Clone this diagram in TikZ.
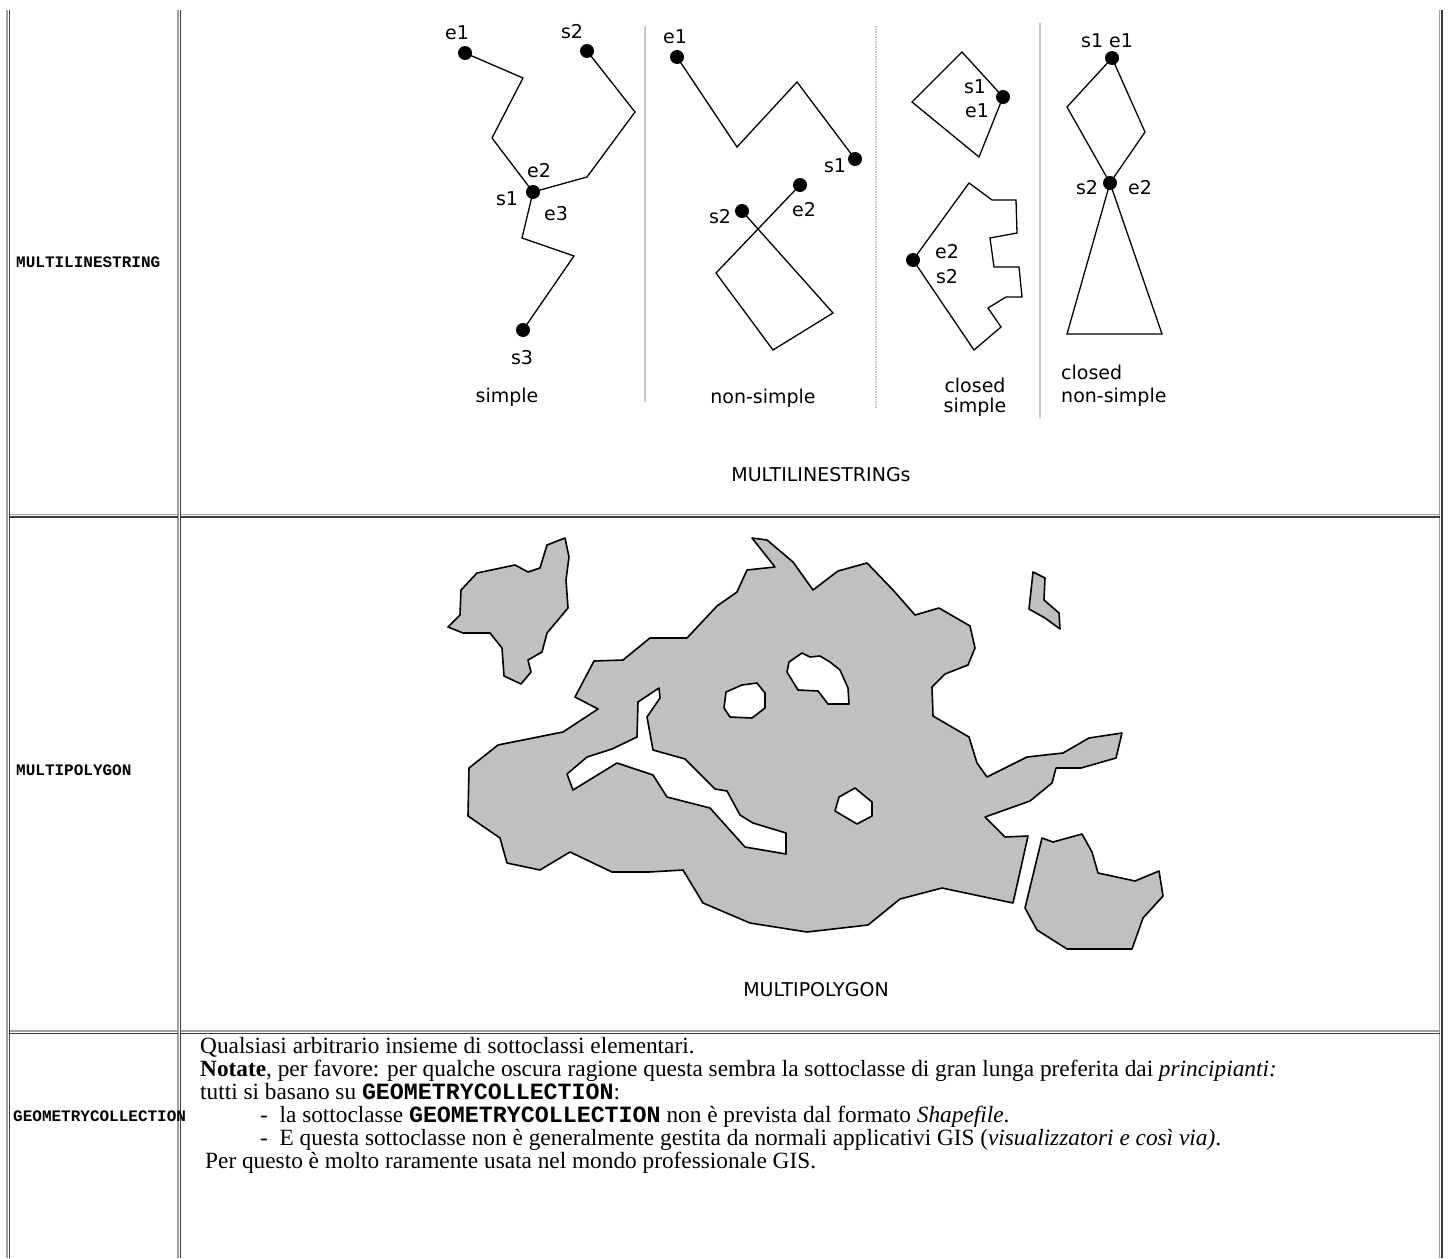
\documentclass[tikz,border=0pt]{standalone}
\usepackage{fontspec}
\setmainfont{Liberation Serif}
\setmonofont{Liberation Mono}
\newfontfamily\lblfont{DejaVu Sans}
\definecolor{tdark}{RGB}{60,60,60}
\definecolor{tlight}{RGB}{160,160,160}
\definecolor{sepgray}{RGB}{200,200,200}
\definecolor{polygray}{RGB}{192,192,192}
\begin{document}
\begin{tikzpicture}[x=1pt,y=-1pt,
  vdot/.style={circle,fill=black,inner sep=0pt,minimum size=14pt},
  lbl/.style={font=\lblfont\fontsize{19}{21}\selectfont,inner sep=0pt},
  edgeline/.style={line width=1.3pt,line join=miter},
  sepline/.style={draw=sepgray,line width=1.4pt},
  bdark/.style={draw=tdark,line width=1.3pt},
  blight/.style={draw=tlight,line width=1.3pt},
  rowlbl/.style={font=\ttfamily\bfseries\fontsize{16}{18}\selectfont,inner sep=0pt,anchor=base west},
  bodytxt/.style={font=\fontsize{23.3}{23}\selectfont,inner sep=0pt,anchor=base west},
  polyfill/.style={fill=polygray,draw=black,line width=1.6pt,line join=round,even odd rule}
]
\useasboundingbox (0,0) rectangle (1448,1258);
\fill[white] (0,0) rectangle (1448,1258);

% ---------- table borders ----------
\draw[blight] (7,10) -- (7,1258);
\draw[bdark] (9.5,10) -- (9.5,1258);
\draw[blight] (178,10) -- (178,1258);
\draw[bdark] (180.5,10) -- (180.5,1258);
\draw[blight] (1439.5,10) -- (1439.5,1258);
\draw[bdark] (1442,10) -- (1442,1258);
\foreach \yy in {514.5,1031}{
  \draw[blight] (9.5,\yy) -- (178,\yy);
  \draw[blight] (180.5,\yy) -- (1439.5,\yy);
  \draw[bdark] (9.5,\yy+2.4) -- (178,\yy+2.4);
  \draw[bdark] (180.5,\yy+2.4) -- (1439.5,\yy+2.4);
}

% ---------- row labels ----------
\node[rowlbl] (rl1) at (16,267) {MULTILINESTRING};
\node[rowlbl] (rl2) at (16,775) {MULTIPOLYGON};
\node[rowlbl] (rl3) at (13,1121) {GEOMETRYCOLLECTION};

% ---------- separators ----------
\draw[sepline] (645,26) -- (645,402);
\draw[sepline,dash pattern=on 1.5pt off 1pt] (876,26) -- (876,408);
\draw[sepline] (1040,23) -- (1040,418);

% ---------- simple ----------
\node[vdot] (Ae1) at (465,53) {};
\node[vdot] (As2) at (587,51) {};
\node[vdot] (Am) at (533,192) {};
\node[vdot] (As3) at (523,330) {};
\draw[edgeline] (Ae1.center) -- (523,78) -- (492,138) -- (Am.center);
\draw[edgeline] (As2.center) -- (635,112) -- (587,177) -- (Am.center);
\draw[edgeline] (Am.center) -- (522,238) -- (574,256) -- (As3.center);
\node[lbl] (tAe1) at (457,33) {e1};
\node[lbl] (tAs2) at (572,32) {s2};
\node[lbl] (tAe2) at (539,171) {e2};
\node[lbl] (tAs1) at (507,199) {s1};
\node[lbl] (tAe3) at (556,214) {e3};
\node[lbl] (tAs3) at (522,358) {s3};
\node[lbl] (tA) at (507,397) {simple};

% ---------- non-simple ----------
\node[vdot] (Be1) at (677,57) {};
\node[vdot] (Bs1) at (855,159) {};
\node[vdot] (Bs2) at (742,211) {};
\node[vdot] (Be2) at (800,185) {};
\draw[edgeline] (Be1.center) -- (737,147) -- (797,82) -- (Bs1.center);
\draw[edgeline] (Bs2.center) -- (833,313) -- (773,350) -- (716,273) -- (Be2.center);
\node[lbl] (tBe1) at (675,37) {e1};
\node[lbl] (tBs1) at (835,166) {s1};
\node[lbl] (tBs2) at (720,217) {s2};
\node[lbl] (tBe2) at (804,210) {e2};
\node[lbl] (tB) at (763,398) {non-simple};

% ---------- closed simple ----------
\node[vdot] (C1) at (1003,97) {};
\node[vdot] (C2) at (913,260) {};
\draw[edgeline] (C1.center) -- (979,157) -- (912,102) -- (962,52) -- cycle;
\draw[edgeline] (C2.center) -- (969,183) -- (992,200) -- (1016,200) -- (1017,233) -- (990,238) -- (994,267) -- (1019,267) -- (1022,297) -- (1006,297) -- (988,308) -- (1001,327) -- (974,350) -- cycle;
\node[lbl] (tCs1) at (975,87) {s1};
\node[lbl] (tCe1) at (977,111) {e1};
\node[lbl] (tCe2) at (947,252) {e2};
\node[lbl] (tCs2) at (947,277) {s2};
\node[lbl] (tC1) at (975,385) {closed};
\node[lbl] (tC2) at (975,407) {simple};

% ---------- closed non-simple ----------
\node[vdot] (D1) at (1112,58) {};
\node[vdot] (D2) at (1110,183) {};
\draw[edgeline] (D1.center) -- (1067,107) -- (D2.center) -- (1145,132) -- cycle;
\draw[edgeline] (D2.center) -- (1067,334) -- (1162,334) -- cycle;
\node[lbl] (tD1) at (1107,41) {s1 e1};
\node[lbl] (tDs2) at (1087,188) {s2};
\node[lbl] (tDe2) at (1140,188) {e2};
\node[lbl,anchor=west] (tD2) at (1061,372) {closed};
\node[lbl,anchor=west] (tD3) at (1061,397) {non-simple};

\node[lbl] (cap1) at (821,475) {MULTILINESTRINGs};

% ---------- multipolygon ----------
\path[polyfill] (565,538) -- (569,557) -- (566,580) -- (568,608) -- (547,633) -- (542,652) -- (528,660) -- (531,672) -- (521,684) -- (504,676) -- (502,648) -- (490,633) -- (463,633) -- (448,627) -- (460,615) -- (461,590) -- (477,573) -- (515,565) -- (528,572) -- (540,568) -- (547,545) -- cycle;

\path[polyfill]
 (752,538) -- (767,540) -- (793,562) -- (813,590) -- (838,571) -- (867,563) -- (893,590) -- (915,615) -- (939,608) -- (970,626) -- (975,648) -- (968,665) -- (945,674) -- (932,687) -- (933,716) -- (969,737) -- (977,763) -- (987,777) -- (1027,757) -- (1063,753) -- (1089,738) -- (1122,733) -- (1116,758) -- (1081,768) -- (1056,768) -- (1052,783) -- (1030,801) -- (985,817) -- (1005,837) -- (1028,836) -- (1013,903) -- (942,888) -- (900,899) -- (868,925) -- (807,932) -- (750,923) -- (703,903) -- (683,870) -- (649,872) -- (612,872) -- (570,852) -- (540,870) -- (507,863) -- (500,838) -- (468,816) -- (469,768) -- (498,745) -- (563,732) -- (598,709) -- (575,697) -- (594,661) -- (623,660) -- (650,638) -- (687,638) -- (717,606) -- (737,592) -- (747,570) -- (775,567) -- cycle
 (659,688) -- (660,698) -- (647,717) -- (653,750) -- (685,759) -- (715,789) -- (727,791) -- (740,815) -- (753,823) -- (786,833) -- (786,854) -- (745,847) -- (710,808) -- (667,797) -- (653,775) -- (617,763) -- (573,790) -- (567,774) -- (587,757) -- (612,749) -- (637,737) -- (638,702) -- cycle
 (757,683) -- (765,693) -- (765,708) -- (752,718) -- (730,717) -- (724,708) -- (726,692) -- (742,685) -- cycle
 (802,653) -- (810,657) -- (820,656) -- (830,662) -- (840,670) -- (848,688) -- (849,704) -- (828,704) -- (818,691) -- (798,690) -- (787,672) -- (789,662) -- cycle
 (855,788) -- (872,802) -- (872,816) -- (857,824) -- (835,811) -- (839,797) -- cycle;

\path[polyfill] (1042,838) -- (1053,842) -- (1082,834) -- (1092,852) -- (1098,873) -- (1135,881) -- (1159,871) -- (1163,896) -- (1143,918) -- (1132,949) -- (1067,949) -- (1037,930) -- (1025,908) -- cycle;

\path[polyfill] (1033,572) -- (1045,578) -- (1044,600) -- (1059,613) -- (1060,629) -- (1045,618) -- (1029,609) -- cycle;

\node[lbl] (cap2) at (816,990) {MULTIPOLYGON};

% ---------- geometrycollection text ----------
\node[bodytxt] (g1) at (200,1053) {Qualsiasi arbitrario insieme di sottoclassi elementari.};
\node[bodytxt] (g2) at (200,1076) {\textbf{Notate}, per favore: per qualche oscura ragione questa sembra la sottoclasse di gran lunga preferita dai \textit{principianti:}};
\node[bodytxt] (g3) at (200,1099) {tutti si basano su \texttt{\bfseries GEOMETRYCOLLECTION}:};
\node[bodytxt] (g4) at (260,1122) {-\ \ la sottoclasse \texttt{\bfseries GEOMETRYCOLLECTION} non è prevista dal formato \textit{Shapefile}.};
\node[bodytxt] (g5) at (260,1145) {-\ \ E questa sottoclasse non è generalmente gestita da normali applicativi GIS (\textit{visualizzatori e così via)}.};
\node[bodytxt] (g6) at (205,1168) {Per questo è molto raramente usata nel mondo professionale GIS.};
\end{tikzpicture}
\end{document}
